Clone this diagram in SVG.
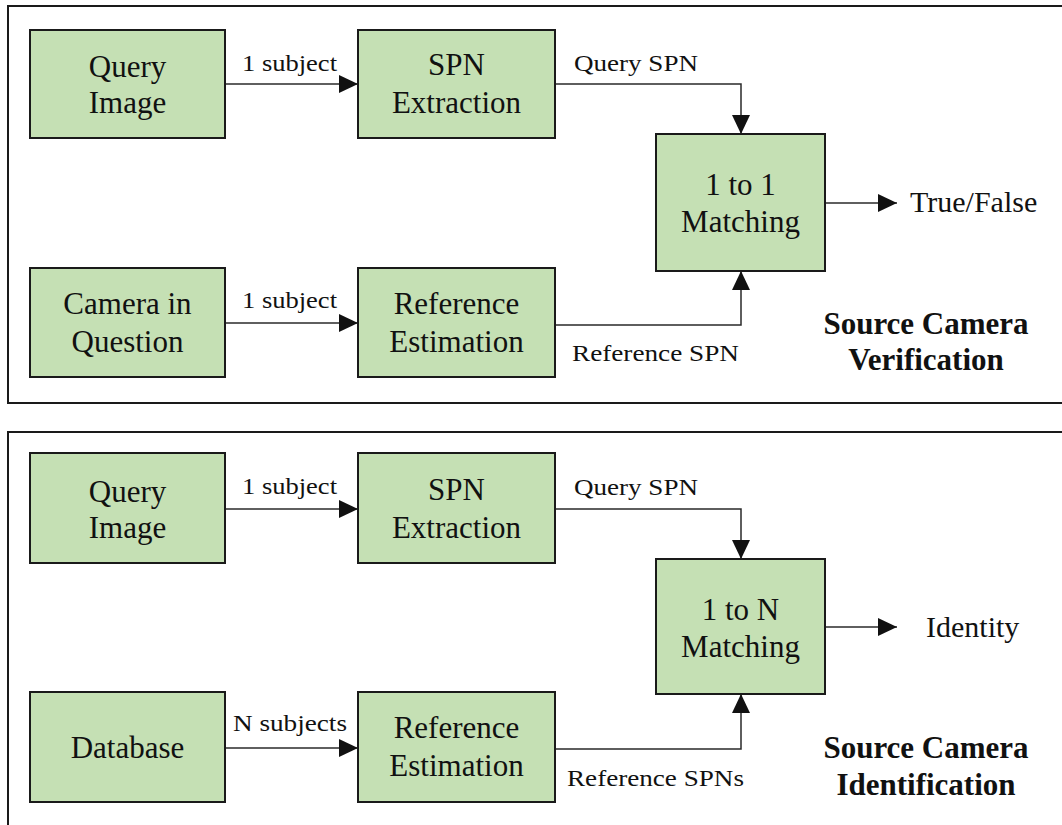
<svg xmlns="http://www.w3.org/2000/svg" width="1062" height="825" viewBox="0 0 1062 825">
<style>
.frame{fill:none;stroke:#1a1a1a;stroke-width:2}
.box{fill:#c5e0b4;stroke:#1a1a1a;stroke-width:2}
.t{font-family:"Liberation Serif","Times New Roman",serif;font-size:31px;fill:#111;text-anchor:middle}
.lbl{font-family:"Liberation Serif","Times New Roman",serif;font-size:24px;fill:#111}
.out{font-family:"Liberation Serif","Times New Roman",serif;font-size:30px;fill:#111}
.bold{font-family:"Liberation Serif","Times New Roman",serif;font-size:31px;font-weight:bold;fill:#111;text-anchor:middle}
.c{fill:none;stroke:#2a2a2a;stroke-width:1.5}
</style>
<defs>
<marker id="ah" markerUnits="userSpaceOnUse" markerWidth="20" markerHeight="18" refX="19" refY="9" orient="auto">
<path d="M0,0 L19,9 L0,18 Z" fill="#111"/>
</marker>
</defs>
<rect width="1062" height="825" fill="#fff"/>
<rect class="frame" x="8" y="6" width="1070" height="397"/>
<rect class="frame" x="8" y="432" width="1070" height="420"/>

<g id="connectors">
<line class="c" x1="225" y1="84" x2="358" y2="84" marker-end="url(#ah)"/>
<polyline class="c" points="555,84 741,84 741,134" marker-end="url(#ah)"/>
<line class="c" x1="225" y1="323" x2="358" y2="323" marker-end="url(#ah)"/>
<polyline class="c" points="555,325 741,325 741,271" marker-end="url(#ah)"/>
<line class="c" x1="825" y1="203" x2="897" y2="203" marker-end="url(#ah)"/>
<line class="c" x1="225" y1="509" x2="358" y2="509" marker-end="url(#ah)"/>
<polyline class="c" points="555,509 741,509 741,559" marker-end="url(#ah)"/>
<line class="c" x1="225" y1="748" x2="358" y2="748" marker-end="url(#ah)"/>
<polyline class="c" points="555,749 741,749 741,694" marker-end="url(#ah)"/>
<line class="c" x1="825" y1="627" x2="897" y2="627" marker-end="url(#ah)"/>
<text class="lbl" x="242" y="71" textLength="95" lengthAdjust="spacingAndGlyphs">1 subject</text>
<text class="lbl" x="574" y="71" textLength="124" lengthAdjust="spacingAndGlyphs">Query SPN</text>
<text class="lbl" x="242" y="308" textLength="95" lengthAdjust="spacingAndGlyphs">1 subject</text>
<text class="lbl" x="572" y="361" textLength="167" lengthAdjust="spacingAndGlyphs">Reference SPN</text>
<text class="lbl" x="242" y="494" textLength="95" lengthAdjust="spacingAndGlyphs">1 subject</text>
<text class="lbl" x="574" y="495" textLength="124" lengthAdjust="spacingAndGlyphs">Query SPN</text>
<text class="lbl" x="233" y="731" textLength="114" lengthAdjust="spacingAndGlyphs">N subjects</text>
<text class="lbl" x="567" y="786" textLength="177" lengthAdjust="spacingAndGlyphs">Reference SPNs</text>
</g>

<g id="query-image-1">
<rect class="box" x="30" y="30" width="195" height="108"/>
<text class="t" x="127.5" y="77">Query</text>
<text class="t" x="127.5" y="113">Image</text>
</g>
<g id="spn-extraction-1">
<rect class="box" x="358" y="30" width="197" height="108"/>
<text class="t" x="456.5" y="75">SPN</text>
<text class="t" x="456.5" y="113">Extraction</text>
</g>
<g id="camera-in-question">
<rect class="box" x="30" y="268" width="195" height="109"/>
<text class="t" x="127.5" y="314">Camera in</text>
<text class="t" x="127.5" y="352">Question</text>
</g>
<g id="reference-estimation-1">
<rect class="box" x="358" y="268" width="197" height="109"/>
<text class="t" x="456.5" y="314">Reference</text>
<text class="t" x="456.5" y="352">Estimation</text>
</g>
<g id="matching-1to1">
<rect class="box" x="656" y="134" width="169" height="137"/>
<text class="t" x="740.5" y="195">1 to 1</text>
<text class="t" x="740.5" y="232">Matching</text>
</g>
<g id="true-false">
<text class="out" x="910" y="212">True/False</text>
</g>
<g id="title-verification">
<text class="bold" x="926" y="334">Source Camera</text>
<text class="bold" x="926" y="370">Verification</text>
</g>

<g id="query-image-2">
<rect class="box" x="30" y="453" width="195" height="110"/>
<text class="t" x="127.5" y="502">Query</text>
<text class="t" x="127.5" y="538">Image</text>
</g>
<g id="spn-extraction-2">
<rect class="box" x="358" y="453" width="197" height="110"/>
<text class="t" x="456.5" y="500">SPN</text>
<text class="t" x="456.5" y="538">Extraction</text>
</g>
<g id="database">
<rect class="box" x="30" y="692" width="195" height="110"/>
<text class="t" x="127.5" y="758">Database</text>
</g>
<g id="reference-estimation-2">
<rect class="box" x="358" y="692" width="197" height="110"/>
<text class="t" x="456.5" y="738">Reference</text>
<text class="t" x="456.5" y="776">Estimation</text>
</g>
<g id="matching-1toN">
<rect class="box" x="656" y="559" width="169" height="135"/>
<text class="t" x="740.5" y="620">1 to N</text>
<text class="t" x="740.5" y="657">Matching</text>
</g>
<g id="identity">
<text class="out" x="926" y="637">Identity</text>
</g>
<g id="title-identification">
<text class="bold" x="926" y="758">Source Camera</text>
<text class="bold" x="926" y="795">Identification</text>
</g>
</svg>
